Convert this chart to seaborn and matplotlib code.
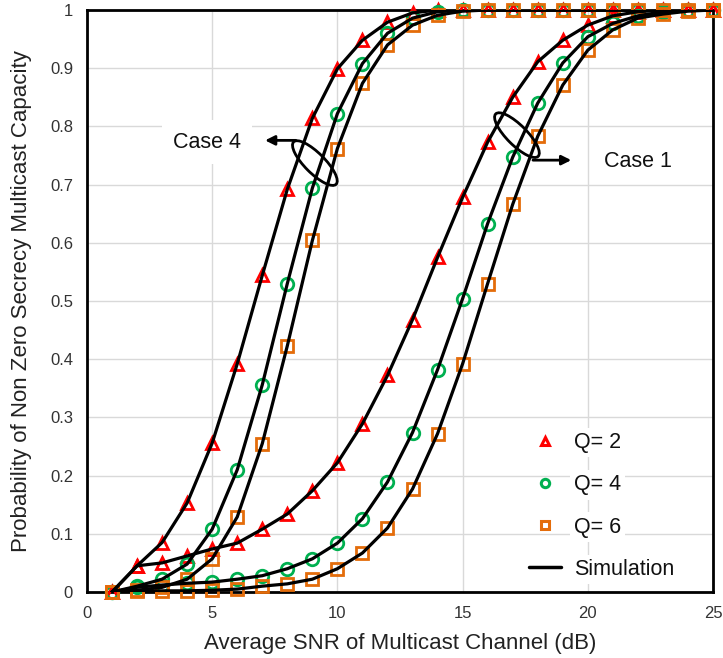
import numpy as np
import pandas as pd
import seaborn as sns
import matplotlib
matplotlib.use("Agg")
import matplotlib.pyplot as plt
from matplotlib.lines import Line2D
from matplotlib.patches import Ellipse
from matplotlib.transforms import ScaledTranslation

# ---------------- data ----------------
snr = list(range(1, 26))
q_labels = ["Q= 2", "Q= 4", "Q= 6"]

case4_q2 = [0.0, 0.045, 0.085, 0.153, 0.256, 0.392, 0.544, 0.692, 0.814, 0.899, 0.948, 0.979, 0.995,
            1, 1, 1, 1, 1, 1, 1, 1, 1, 1, 1, 1]
case4_q4 = [0.0, 0.01, 0.022, 0.048, 0.108, 0.21, 0.356, 0.53, 0.694, 0.822, 0.908, 0.96, 0.986,
            0.997, 1, 1, 1, 1, 1, 1, 1, 1, 1, 1, 1]
case4_q6 = [0.0, 0.003, 0.008, 0.022, 0.057, 0.129, 0.255, 0.423, 0.604, 0.762, 0.874, 0.94, 0.974,
            0.991, 0.998, 1, 1, 1, 1, 1, 1, 1, 1, 1, 1]
case1_q2 = [0.0, 0.045, 0.05, 0.062, 0.074, 0.084, 0.108, 0.134, 0.174, 0.222, 0.289, 0.372, 0.468,
            0.575, 0.678, 0.773, 0.85, 0.911, 0.948, 0.974, 0.99, 0.997, 1, 1, 1]
case1_q4 = [0.0, 0.008, 0.012, 0.015, 0.017, 0.022, 0.028, 0.04, 0.057, 0.084, 0.126, 0.189, 0.274,
            0.382, 0.504, 0.633, 0.747, 0.84, 0.909, 0.954, 0.977, 0.99, 0.997, 1, 1]
case1_q6 = [0.0, 0.001, 0.002, 0.002, 0.003, 0.005, 0.01, 0.014, 0.022, 0.04, 0.067, 0.11, 0.177,
            0.272, 0.392, 0.53, 0.666, 0.783, 0.871, 0.931, 0.966, 0.986, 0.993, 0.998, 1]

series = {
    ("Case 4", "Q= 2"): case4_q2,
    ("Case 4", "Q= 4"): case4_q4,
    ("Case 4", "Q= 6"): case4_q6,
    ("Case 1", "Q= 2"): case1_q2,
    ("Case 1", "Q= 4"): case1_q4,
    ("Case 1", "Q= 6"): case1_q6,
}

rows = []
for (case, q), vals in series.items():
    for x, y in zip(snr, vals):
        rows.append({"snr": x, "prob": y, "case": case, "Q": q, "curve": f"{case} {q}"})
df = pd.DataFrame(rows)

# ---------------- style ----------------
sns.set_theme(style="white")
plt.rcParams["font.family"] = ["Liberation Sans", "DejaVu Sans"]

colors = {"Q= 2": "#FF0000", "Q= 4": "#00B050", "Q= 6": "#E46C0A"}
markers = {"Q= 2": "^", "Q= 4": "o", "Q= 6": "s"}

fig = plt.figure(figsize=(7.23, 6.58), dpi=100)
ax = fig.add_axes([87 / 723, 1 - 592 / 658, 626 / 723, 582 / 658])

# markers (analysis)
for q in q_labels:
    sub = df[df["Q"] == q]
    for case in ["Case 4", "Case 1"]:
        s2 = sub[sub["case"] == case]
        sns.lineplot(data=s2, x="snr", y="prob", ax=ax, estimator=None,
                     linestyle="none", marker=markers[q], markersize=9 if q != "Q= 6" else 8.5,
                     markerfacecolor="none", markeredgecolor=colors[q],
                     markeredgewidth=2.0, color=colors[q], clip_on=False, zorder=3,
                     legend=False)

# simulation lines
sns.lineplot(data=df, x="snr", y="prob", units="curve", estimator=None, ax=ax,
             color="black", linewidth=2.3, zorder=4, legend=False)

ax.set_xlim(0, 25)
ax.set_ylim(0, 1)
ax.set_xticks([0, 5, 10, 15, 20, 25])
ax.set_xticklabels(["0", "5", "10", "15", "20", "25"])
ax.set_yticks(np.round(np.arange(0, 1.01, 0.1), 1))
ax.set_yticklabels(["0", "0.1", "0.2", "0.3", "0.4", "0.5", "0.6", "0.7", "0.8", "0.9", "1"])
ax.grid(True, color="#D9D9D9", linewidth=1.0)
ax.set_axisbelow(True)
for sp in ax.spines.values():
    sp.set_color("black")
    sp.set_linewidth(2.0)
    sp.set_zorder(2.5)
ax.tick_params(axis="both", length=0, labelsize=12, colors="#333333", pad=10)

ax.set_xlabel("Average SNR of Multicast Channel (dB)", fontsize=16, color="#222222", labelpad=9)
ax.set_ylabel("Probability of Non Zero Secrecy Multicast Capacity", fontsize=16, color="#222222",
              labelpad=13)

# annotations
bbox_w = dict(facecolor="white", edgecolor="none", pad=8)
ax.text(4.8, 0.773, "Case 4", fontsize=15.5, ha="center", va="center", color="#111111",
        bbox=bbox_w, zorder=5)
ax.text(22.0, 0.74, "Case 1", fontsize=15.5, ha="center", va="center", color="#111111",
        bbox=bbox_w, zorder=5)

for cx, cy in [(9.1, 0.737), (17.17, 0.785)]:
    tr = fig.dpi_scale_trans + ScaledTranslation(cx, cy, ax.transData)
    ax.add_patch(Ellipse((0, 0), width=0.6, height=0.2, angle=-45, transform=tr,
                         fill=False, edgecolor="black", linewidth=2.0, zorder=6, clip_on=False))

ax.annotate("", xy=(7.0, 0.776), xytext=(8.45, 0.776),
            arrowprops=dict(arrowstyle="-|>", color="black", lw=2.0, mutation_scale=14), zorder=6)
ax.annotate("", xy=(19.45, 0.742), xytext=(17.7, 0.742),
            arrowprops=dict(arrowstyle="-|>", color="black", lw=2.0, mutation_scale=14), zorder=6)

# legend
handles = [Line2D([], [], linestyle="none", marker=markers[q], markersize=6,
                  markerfacecolor="none", markeredgecolor=colors[q], markeredgewidth=2.2)
           for q in q_labels]
handles.append(Line2D([], [], color="black", linewidth=2.5))
leg = ax.legend(handles, q_labels + ["Simulation"], loc="lower left",
                bbox_to_anchor=(0.675, -0.012), frameon=False, fontsize=15.5,
                handlelength=1.5, handletextpad=0.6, labelspacing=0.98)
for t in leg.get_texts():
    t.set_color("#111111")
    t.set_bbox(dict(facecolor="white", edgecolor="none", pad=3))
leg.set_zorder(7)

fig.savefig("out.png", dpi=100)
